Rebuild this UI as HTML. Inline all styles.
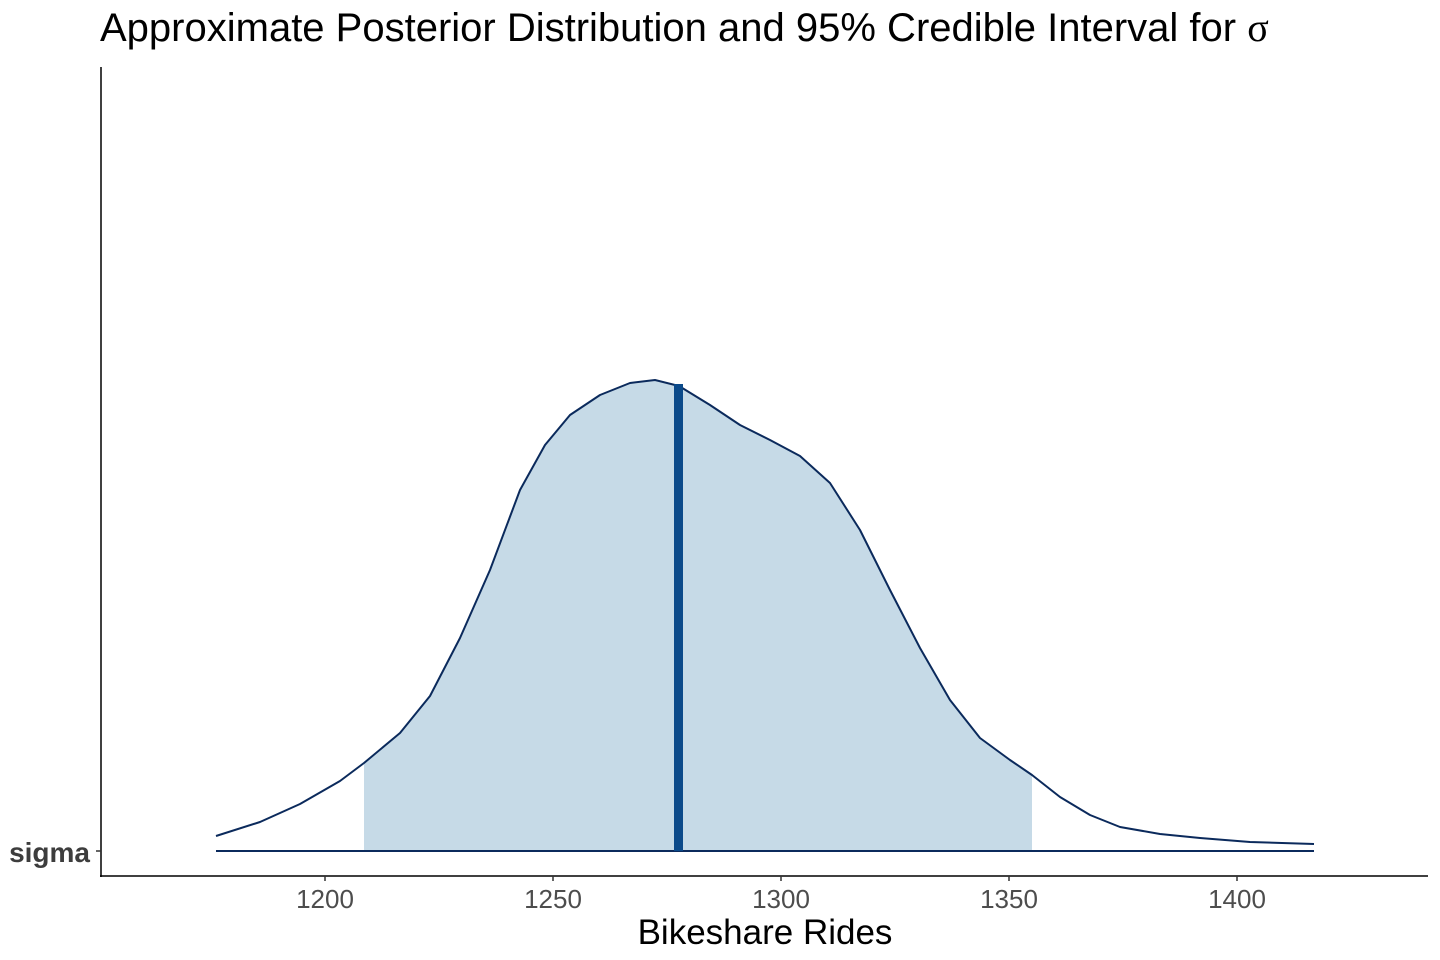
<!DOCTYPE html>
<html><head><meta charset="utf-8"><style>
html,body{margin:0;padding:0;background:#fff;}
svg{display:block;font-family:"Liberation Sans",sans-serif;}
</style></head><body>
<svg width="1440" height="960" viewBox="0 0 1440 960" xmlns="http://www.w3.org/2000/svg">
<text x="100" y="41" font-size="40" fill="#000">Approximate Posterior Distribution and 95% Credible Interval for <tspan font-family="Liberation Serif, serif">σ</tspan></text>
<polygon fill="#c6dae7" points="364,851 364,763 400,733 430,696 460,638 490,570 520,490 545,445 570,415 600,395 630,383 655,380 679,386 710,405 740,425 770,440 800,456 830,483 860,530 890,590 920,648 950,700 980,738 1010,760 1032,775 1032,851"/>
<polyline fill="none" stroke="#0b2a5c" stroke-width="2" stroke-linejoin="round" points="216,836 260,822 300,804 340,781 364,763 400,733 430,696 460,638 490,570 520,490 545,445 570,415 600,395 630,383 655,380 679,386 710,405 740,425 770,440 800,456 830,483 860,530 890,590 920,648 950,700 980,738 1010,760 1032,775 1060,797 1090,815 1120,827 1160,834 1200,838 1250,842 1314,844"/>
<line x1="216" y1="851" x2="1314" y2="851" stroke="#0b2a5c" stroke-width="2"/>
<line x1="678.5" y1="384" x2="678.5" y2="851" stroke="#0b4a8a" stroke-width="9"/>
<line x1="101" y1="67" x2="101" y2="877" stroke="#000" stroke-width="1.5"/>
<line x1="100" y1="876" x2="1428" y2="876" stroke="#000" stroke-width="1.5"/>
<line x1="96" y1="851" x2="101" y2="851" stroke="#333" stroke-width="1.5"/>
<g stroke="#333" stroke-width="1.5">
<line x1="325" y1="876" x2="325" y2="881"/><line x1="553" y1="876" x2="553" y2="881"/><line x1="781" y1="876" x2="781" y2="881"/><line x1="1009" y1="876" x2="1009" y2="881"/><line x1="1237" y1="876" x2="1237" y2="881"/>
</g>
<g font-size="26" fill="#4d4d4d" text-anchor="middle">
<text x="325" y="908">1200</text><text x="553" y="908">1250</text><text x="781" y="908">1300</text><text x="1009" y="908">1350</text><text x="1237" y="908">1400</text>
</g>
<text x="90" y="862" font-size="28" font-weight="bold" fill="#3d3d3d" text-anchor="end">sigma</text>
<text x="765" y="944" font-size="35" fill="#000" text-anchor="middle">Bikeshare Rides</text>
</svg>
</body></html>
